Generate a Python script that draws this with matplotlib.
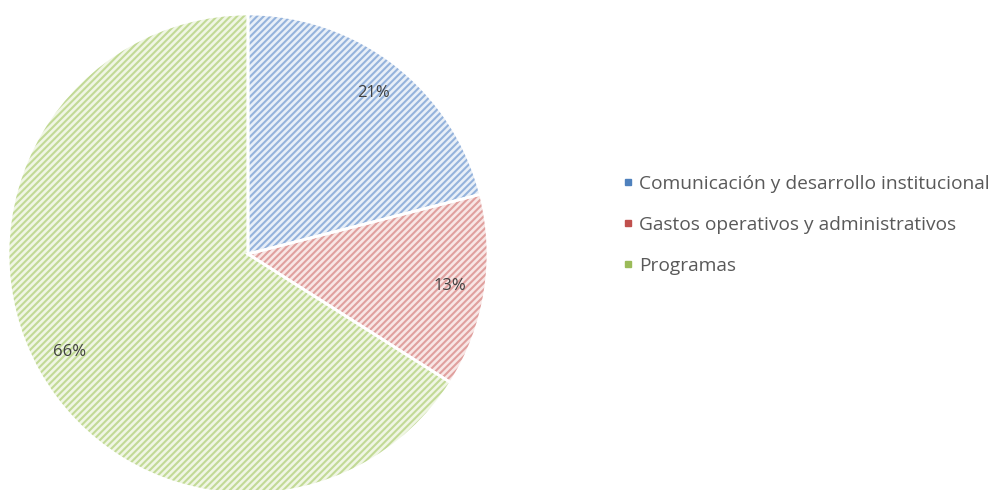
import matplotlib
matplotlib.use("Agg")
import matplotlib.pyplot as plt
from matplotlib.lines import Line2D
import numpy as np

categories = ["Comunicación y desarrollo institucional",
              "Gastos operativos y administrativos",
              "Programas"]
values = [21, 13, 66]
pct_labels = ["21%", "13%", "66%"]

base_colors = ["#95B3DC", "#E0A09E", "#C2DA96"]
face_colors = ["#E8EFF8", "#F8E6E5", "#F0F6E4"]
legend_colors = ["#4F81BD", "#C0504D", "#9BBB59"]

plt.rcParams['hatch.linewidth'] = 1.5
fig = plt.figure(figsize=(9.99, 4.9), dpi=100)
ax = fig.add_axes([8/999, -4/490, 480/999, 480/490])
wedges, _ = ax.pie(values, startangle=90, counterclock=False,
                   colors=face_colors,
                   wedgeprops=dict(linewidth=0))
for w, c in zip(wedges, base_colors):
    w.set_edgecolor(c)
    w.set_linewidth(0)
    w.set_hatch("/////")
# white outlines on top
ax.pie(values, startangle=90, counterclock=False,
       wedgeprops=dict(fill=False, edgecolor="white", linewidth=2))

cum = 0
for v, lab in zip(values, pct_labels):
    mid = 90 - (cum + v / 2) / sum(values) * 360
    cum += v
    r = 0.85
    ax.text(r * np.cos(np.radians(mid)), r * np.sin(np.radians(mid)), lab,
            ha="center", va="center", fontsize=12, color="#404040",
            family="Open Sans")
ax.set_xlim(-1, 1)
ax.set_ylim(-1, 1)
ax.set_aspect("equal")
ax.axis("off")

handles = [Line2D([0], [0], marker="s", linestyle="none", markersize=5,
                  markerfacecolor=c, markeredgecolor=c) for c in legend_colors]
fig.legend(handles, categories, loc="center left",
           bbox_to_anchor=(603/999, 1 - 225/490), frameon=False,
           prop=dict(family="Open Sans", size=13.8), labelcolor="#595959",
           handletextpad=0.2, handlelength=0.8, labelspacing=1.2)

fig.savefig("out.png", dpi=100)
